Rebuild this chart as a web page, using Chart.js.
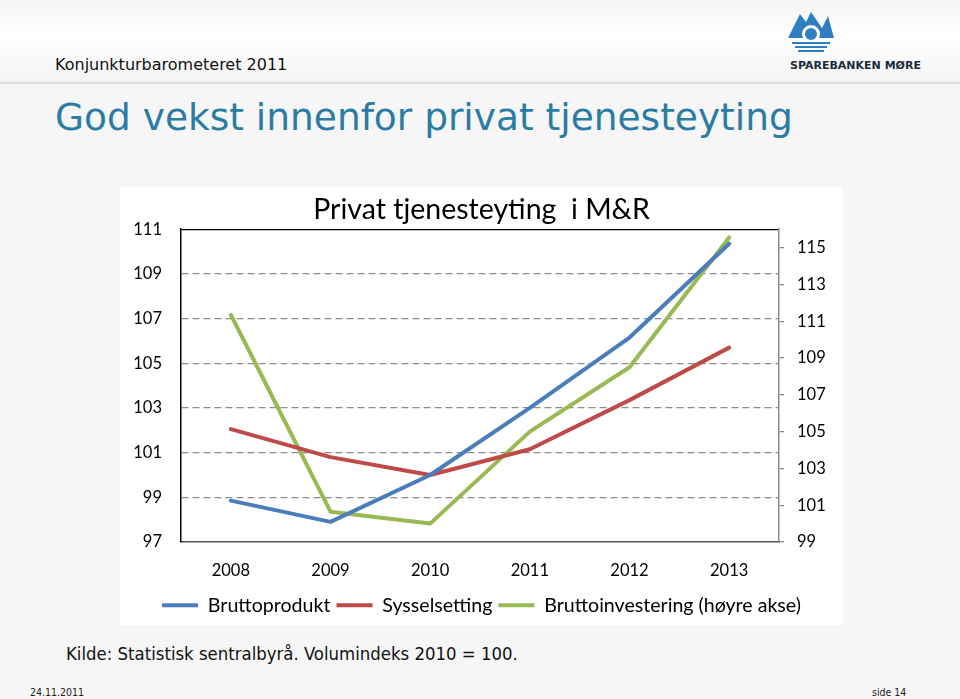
<!DOCTYPE html>
<html>
<head>
<meta charset="utf-8">
<script src="https://cdn.jsdelivr.net/npm/chart.js@4"></script>
<style>
  html, body { margin: 0; padding: 0; }
  body { width: 960px; height: 699px; position: relative; overflow: hidden; background: #f6f6f6; font-family: "DejaVu Sans", Verdana, sans-serif; }
  .header { position: absolute; left: 0; top: 0; width: 960px; height: 82px; background: linear-gradient(#f4f4f4, #ffffff 45%, #f3f3f3); border-bottom: 2px solid #dcdcdc; }
  .kb { position: absolute; left: 55px; top: 55px; font-size: 16px; color: #111; }
  .logo { position: absolute; left: 786px; top: 8px; }
  .brand { position: absolute; left: 790px; top: 59px; font-family: "DejaVu Sans", sans-serif; font-weight: bold; font-size: 11px; color: #1b2a3a; }
  .title { position: absolute; left: 55px; top: 95px; font-size: 37.5px; color: #2b7ca3; }
  .box { position: absolute; left: 120px; top: 187px; width: 723px; height: 438px; background: #ffffff; }
  .src { position: absolute; left: 66px; top: 643px; font-family: "DejaVu Sans Condensed", "DejaVu Sans", sans-serif; font-stretch: condensed; font-size: 18.4px; color: #111; }
  .foot { position: absolute; top: 686px; font-family: "DejaVu Sans Condensed", "DejaVu Sans", sans-serif; font-size: 10.5px; color: #222; }
</style>
</head>
<body>
<div class="header"></div>
<div class="kb">Konjunkturbarometeret 2011</div>
<svg class="logo" width="50" height="48" viewBox="0 0 50 48">
  <polygon points="2,30 14,6 20,14 25,4 36,20 42,8 48,30" fill="#2f7fc0"/>
  <circle cx="25" cy="26" r="9" fill="#ffffff"/>
  <circle cx="25" cy="26" r="6" fill="#2f7fc0"/>
  <rect x="6" y="34" width="38" height="2" fill="#2f7fc0"/>
  <rect x="9" y="38" width="32" height="2" fill="#2f7fc0"/>
  <rect x="12" y="42" width="26" height="2" fill="#2f7fc0"/>
</svg>
<div class="brand">SPAREBANKEN MØRE</div>
<div class="title">God vekst innenfor privat tjenesteyting</div>
<div class="box"><canvas id="chart"></canvas></div>
<div class="src">Kilde: Statistisk sentralbyrå. Volumindeks 2010 = 100.</div>
<div class="foot" style="left:30px">24.11.2011</div>
<div class="foot" style="left:872px">side 14</div>

<script>
const years = ['2008', '2009', '2010', '2011', '2012', '2013'];
const bruttoprodukt = [98.85, 97.9, 100, 103, 106.15, 110.35];
const sysselsetting = [102.05, 100.8, 100, 101.15, 103.35, 105.7];
const bruttoinvestering = [111.35, 100.65, 100, 105, 108.5, 115.55];
const leftTicks = [97, 99, 101, 103, 105, 107, 109, 111];
const rightTicks = [99, 101, 103, 105, 107, 109, 111, 113, 115];

const chartFont = 'Lato, "Open Sans", sans-serif';

new Chart(document.getElementById('chart'), {
    type: 'line',
    data: {
        labels: years,
        datasets: [{
            label: 'Bruttoprodukt',
            data: bruttoprodukt,
            borderColor: '#4a7ebb',
            borderWidth: 4,
            yAxisID: 'y'
        }, {
            label: 'Sysselsetting',
            data: sysselsetting,
            borderColor: '#be4b48',
            borderWidth: 4,
            yAxisID: 'y'
        }, {
            label: 'Bruttoinvestering (høyre akse)',
            data: bruttoinvestering,
            borderColor: '#98b954',
            borderWidth: 4,
            yAxisID: 'y2'
        }]
    },
    options: {
        responsive: true,
        maintainAspectRatio: false,
        animation: false,
        layout: { padding: 0 },
        elements: {
            line: { tension: 0, borderCapStyle: 'round', borderJoinStyle: 'round', fill: false },
            point: { radius: 0, hoverRadius: 0 }
        },
        plugins: {
            tooltip: { enabled: false },
            title: {
                display: true,
                text: 'Privat tjenesteyting  i M&R',
                color: '#000',
                font: { family: chartFont, size: 28.5, weight: 'normal' },
                padding: { top: 6, bottom: 2 }
            },
            legend: {
                position: 'bottom',
                labels: {
                    usePointStyle: true,
                    pointStyle: 'line',
                    pointStyleWidth: 36,
                    padding: 6,
                    color: '#000',
                    font: { family: chartFont, size: 19.6 }
                }
            }
        },
        scales: {
            x: {
                type: 'category',
                offset: true,
                grid: { display: false, drawTicks: false },
                border: { color: '#555', width: 1.5 },
                ticks: { color: '#000', padding: 19, font: { family: chartFont, size: 16.5 } },
                afterFit: (scale) => { scale.height = 47.4; }
            },
            y: {
                position: 'left',
                min: 97,
                max: 111,
                afterBuildTicks: (axis) => { axis.ticks = leftTicks.map(v => ({ value: v })); },
                grid: {
                    drawTicks: false,
                    lineWidth: 1.3,
                    color: (ctx) => {
                        if (!ctx.tick) return '#8c8c8c';
                        if (ctx.tick.value === 111) return '#000';
                        if (ctx.tick.value === 97) return 'rgba(0,0,0,0)';
                        return '#8c8c8c';
                    }
                },
                border: {
                    color: '#000',
                    width: 1.5,
                    dash: (ctx) => (ctx.tick && ctx.tick.value !== 111 ? [7, 4] : [])
                },
                ticks: { color: '#000', padding: 19, font: { family: chartFont, size: 16.5 } },
                afterFit: (scale) => { scale.width = 61; }
            },
            y2: {
                position: 'right',
                min: 99,
                max: 116,
                afterBuildTicks: (axis) => { axis.ticks = rightTicks.map(v => ({ value: v })); },
                grid: { drawOnChartArea: false, drawTicks: true, tickLength: 5, color: '#8c8c8c', lineWidth: 1.3 },
                border: { color: '#8c8c8c', width: 1.5 },
                ticks: { color: '#000', padding: 13, font: { family: chartFont, size: 16.5 } },
                afterFit: (scale) => { scale.width = 64; }
            }
        }
    }
});
</script>
</body>
</html>
